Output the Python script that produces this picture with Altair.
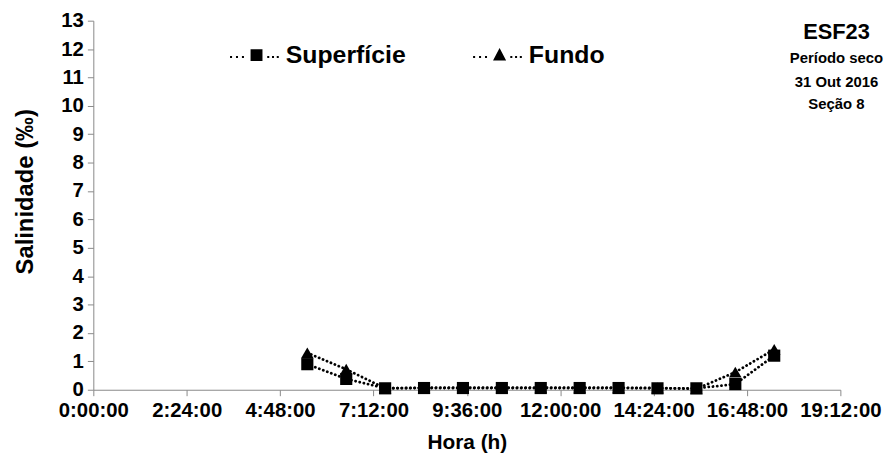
import altair as alt
import pandas as pd

# leituras do gráfico (hora local, salinidade em ‰)
horas = ["5:30", "6:30", "7:30", "8:30", "9:30", "10:30", "11:30",
         "12:30", "13:30", "14:30", "15:30", "16:30", "17:30"]
superficie = [0.90, 0.38, 0.05, 0.06, 0.06, 0.06, 0.06, 0.06, 0.06, 0.05, 0.05, 0.20, 1.20]
fundo = [1.30, 0.72, 0.05, 0.07, 0.07, 0.07, 0.07, 0.07, 0.07, 0.06, 0.03, 0.62, 1.42]
series = ["Superfície", "Fundo"]

x_ticks = [0, 2.4, 4.8, 7.2, 9.6, 12.0, 14.4, 16.8, 19.2]
y_ticks = list(range(14))

info_txt = ["ESF23", "Período seco", "31 Out 2016", "Seção 8"]
info_y = [12.6, 11.7, 10.85, 10.05]
info_size = [22, 15, 15, 15]


def to_h(s):
    h, m = s.split(":")
    return int(h) + int(m) / 60


rows = []
for nome, vals in zip(series, [superficie, fundo]):
    for h, v in zip(horas, vals):
        rows.append({"Hora": to_h(h), "Salinidade": v, "Série": nome})
df = pd.DataFrame(rows)

info = pd.DataFrame({"txt": info_txt, "Salinidade": info_y, "tam": info_size, "Hora": 19.1})

FONT = "Liberation Sans"

x = alt.X("Hora:Q", title="Hora (h)",
          scale=alt.Scale(domain=[0, 19.2], nice=False, zero=False),
          axis=alt.Axis(values=x_ticks, grid=False, titlePadding=11, labelPadding=5,
                        labelOverlap=False, labelFlush=False, titleFontSize=21,
                        labelExpr="floor(datum.value) + ':' + "
                                  "(round((datum.value - floor(datum.value)) * 60) < 10 ? '0' : '') + "
                                  "round((datum.value - floor(datum.value)) * 60) + ':00'"))
y = alt.Y("Salinidade:Q", title="Salinidade (‰)",
          scale=alt.Scale(domain=[0, 13], nice=False),
          axis=alt.Axis(values=y_ticks, grid=False, titlePadding=23, titleY=172,
                        titleFontSize=24, labelOverlap=False, labelFlush=False))

base = alt.Chart(df)

lines = base.mark_line(strokeDash=[0.1, 4.2], strokeWidth=2.8, strokeCap="round",
                       color="black").encode(x=x, y=y, detail="Série:N")

pts = base.mark_point(filled=True, opacity=1, color="black").encode(
    x=x, y=y,
    shape=alt.Shape("Série:N", legend=None,
                    scale=alt.Scale(domain=series, range=["square", "triangle-up"])),
    size=alt.Size("Série:N", legend=None,
                  scale=alt.Scale(domain=series, range=[150, 160])),
)

# símbolos da legenda: pontilhado + marcador
dots_sq = "M-4.45,0.15h0.34v0.34h-0.34Z M-3.45,0.15h0.34v0.34h-0.34Z M-2.45,0.15h0.34v0.34h-0.34Z " \
          "M1.8,0.15h0.34v0.34h-0.34Z M2.6,0.15h0.34v0.34h-0.34Z M3.4,0.15h0.34v0.34h-0.34Z"
sym_sq = "M-1,-1H1V1H-1Z " + dots_sq
sym_tri = "M0,-1.2L1.1,0.9H-1.1Z " + dots_sq

leg = base.mark_point(filled=True, opacity=0, color="black").transform_calculate(
    Leg="datum['Série']"
).encode(
    x=x, y=y,
    shape=alt.Shape("Leg:N", title=None,
                    scale=alt.Scale(domain=series, range=[sym_sq, sym_tri]),
                    legend=alt.Legend(orient="none", legendX=152, legendY=22,
                                      direction="horizontal", symbolSize=144,
                                      symbolOpacity=1, symbolFillColor="black",
                                      symbolStrokeColor="black",
                                      symbolStrokeWidth=0, labelOffset=17,
                                      columnPadding=67, labelFontSize=25,
                                      labelFont=FONT, labelFontWeight="bold",
                                      labelColor="black")),
)

texto = alt.Chart(info).mark_text(font=FONT, fontWeight="bold", color="black",
                                   align="center", baseline="middle").encode(
    x=x, y=y,
    text="txt:N",
    size=alt.Size("tam:Q", scale=None, legend=None),
)

chart = alt.layer(lines, pts, leg, texto).resolve_scale(
    shape="independent", size="independent"
).properties(
    width=753, height=372,
    autosize=alt.AutoSizeParams(type="none"),
    padding={"left": 86, "top": 11, "right": 46, "bottom": 64},
).configure_view(stroke=None).configure_axis(
    domainColor="#898989", tickColor="#898989", tickSize=6,
    labelFont=FONT, labelFontWeight="bold", labelFontSize=20.5, labelColor="black",
    titleFont=FONT, titleFontWeight="bold", titleColor="black",
    labelPadding=4,
)

chart.save("out.html", embed_options={"renderer": "svg", "actions": False})
